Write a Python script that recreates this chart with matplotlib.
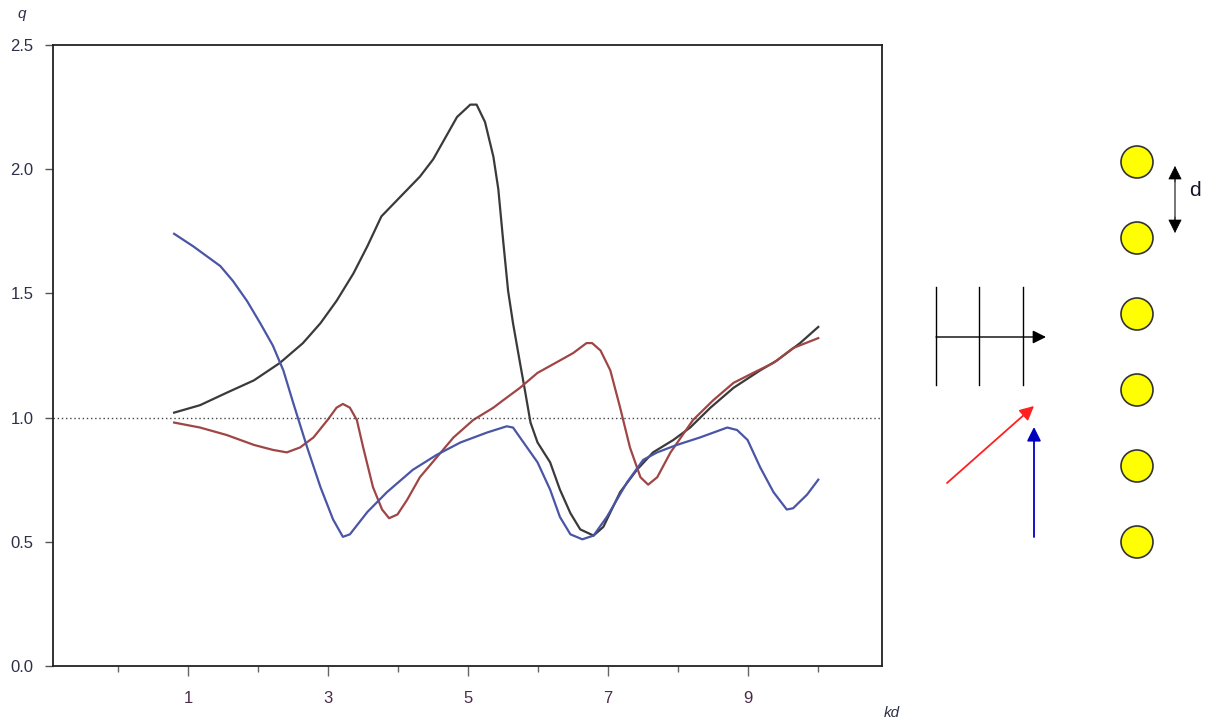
import numpy as np
import matplotlib.pyplot as plt
import matplotlib.ticker as mticks
from matplotlib.patches import Circle

plt.switch_backend('agg')
plt.rcParams['font.family'] = ['Liberation Sans', 'DejaVu Sans']

# --- data ---
black_x = [0.8, 1.17, 1.55, 1.94, 2.31, 2.64, 2.89, 3.12, 3.36, 3.56, 3.76, 4.0, 4.31,
           4.5, 4.64, 4.84, 5.03, 5.12, 5.24, 5.36, 5.43, 5.5, 5.57, 5.64, 5.74, 5.81,
           5.89, 5.99, 6.17, 6.31, 6.46, 6.6, 6.79, 6.93, 7.17, 7.41, 7.64, 7.93, 8.17,
           8.46, 8.79, 9.17, 9.41, 9.74, 10.0]
black_y = [1.02, 1.05, 1.10, 1.15, 1.22, 1.30, 1.38, 1.47, 1.58, 1.69, 1.81, 1.88, 1.97,
           2.04, 2.11, 2.21, 2.26, 2.26, 2.19, 2.05, 1.92, 1.71, 1.51, 1.38, 1.22, 1.11,
           0.98, 0.90, 0.82, 0.71, 0.615, 0.55, 0.525, 0.56, 0.70, 0.79, 0.86, 0.91, 0.96,
           1.04, 1.12, 1.19, 1.23, 1.30, 1.365]

red_x = [0.8, 1.17, 1.55, 1.94, 2.21, 2.41, 2.6, 2.79, 2.99, 3.12, 3.21, 3.31, 3.41, 3.5,
         3.64, 3.77, 3.87, 3.99, 4.13, 4.31, 4.55, 4.79, 5.07, 5.36, 5.5, 5.74, 5.99, 6.31,
         6.5, 6.69, 6.77, 6.89, 7.03, 7.17, 7.31, 7.46, 7.57, 7.7, 7.89, 8.21, 8.5, 8.79,
         9.07, 9.36, 9.64, 10.0]
red_y = [0.98, 0.96, 0.93, 0.89, 0.87, 0.86, 0.88, 0.92, 0.99, 1.04, 1.055, 1.04, 0.99, 0.88,
         0.72, 0.63, 0.595, 0.61, 0.67, 0.76, 0.84, 0.92, 0.99, 1.04, 1.07, 1.12, 1.18, 1.23,
         1.26, 1.30, 1.30, 1.27, 1.19, 1.04, 0.88, 0.76, 0.73, 0.76, 0.86, 0.99, 1.07, 1.14,
         1.18, 1.22, 1.28, 1.32]

blue_x = [0.8, 1.07, 1.46, 1.64, 1.84, 2.03, 2.21, 2.36, 2.5, 2.7, 2.89, 3.07, 3.21, 3.31,
          3.56, 3.84, 4.21, 4.55, 4.89, 5.27, 5.55, 5.64, 5.74, 5.99, 6.17, 6.31, 6.46, 6.63,
          6.79, 6.98, 7.27, 7.5, 7.7, 7.98, 8.31, 8.7, 8.84, 8.99, 9.17, 9.36, 9.55, 9.64,
          9.84, 10.0]
blue_y = [1.74, 1.69, 1.61, 1.55, 1.47, 1.38, 1.29, 1.19, 1.06, 0.88, 0.72, 0.59, 0.52, 0.53,
          0.62, 0.70, 0.79, 0.85, 0.90, 0.94, 0.965, 0.96, 0.92, 0.82, 0.71, 0.60, 0.53, 0.51,
          0.525, 0.60, 0.74, 0.83, 0.86, 0.89, 0.92, 0.96, 0.95, 0.91, 0.80, 0.70, 0.63, 0.635,
          0.69, 0.75]

x_major = [1, 3, 5, 7, 9]
x_minor = [0, 2, 4, 6, 8, 10]
y_ticks = [0.0, 0.5, 1.0, 1.5, 2.0, 2.5]
ref_level = 1.0

W, H = 1214, 720
fig = plt.figure(figsize=(W / 100, H / 100), dpi=100)
ax = fig.add_axes([53 / W, 1 - 666 / H, (882 - 53) / W, (666 - 45) / H])

ax.plot(black_x, black_y, color='#3a3a3a', lw=1.6, solid_joinstyle='round')
ax.plot(red_x, red_y, color='#a04545', lw=1.6, solid_joinstyle='round')
ax.plot(blue_x, blue_y, color='#4a55a5', lw=1.6, solid_joinstyle='round')
ax.axhline(ref_level, color='#444444', lw=1.0, ls=(0, (1, 2)))

ax.set_xlim(-0.93, 10.91)
ax.set_ylim(0, 2.5)
ax.xaxis.set_major_locator(mticks.FixedLocator(x_major))
ax.xaxis.set_minor_locator(mticks.FixedLocator(x_minor))
ax.set_yticks(y_ticks)
ax.set_yticklabels([f'{v:.1f}' for v in y_ticks])
ax.tick_params(axis='x', which='major', length=7, width=1, color='#666666',
               labelsize=12, labelcolor='#4a2c4a', pad=11)
ax.tick_params(axis='x', which='minor', length=4.5, width=1, color='#666666')
ax.tick_params(axis='y', length=6, width=1, color='#555555',
               labelsize=12, labelcolor='#2c3048', pad=8)
for s in ax.spines.values():
    s.set_linewidth(1.3)
    s.set_color('#222222')

fig.text(22 / W, 1 - 14 / H, 'q', fontsize=11, style='italic', color='#2c3048',
         ha='center', va='center')
fig.text(892 / W, 1 - 713 / H, 'kd', fontsize=11, style='italic', color='#2c3048',
         ha='center', va='center')

# --- sketch on the right: wavefronts, incidence arrows, row of cylinders ---
ov = fig.add_axes([0, 0, 1, 1])
ov.set_xlim(0, W)
ov.set_ylim(H, 0)
ov.axis('off')

for cy in [162, 238, 314, 390, 466, 542]:
    ov.add_patch(Circle((1137, cy), 16, facecolor='#ffff00', edgecolor='#333333', lw=1.2))

ov.plot([1175, 1175], [178, 222], color='#777777', lw=1.4)
ov.annotate('', xy=(1175, 166), xytext=(1175, 182),
            arrowprops=dict(arrowstyle='-|>', color='black', lw=0.5, mutation_scale=22,
                            shrinkA=0, shrinkB=0))
ov.annotate('', xy=(1175, 233), xytext=(1175, 217),
            arrowprops=dict(arrowstyle='-|>', color='black', lw=0.5, mutation_scale=22,
                            shrinkA=0, shrinkB=0))
ov.text(1195, 190, 'd', fontsize=15, ha='center', va='center', color='#14142e')

for wx in [936, 979, 1023]:
    ov.plot([wx, wx], [287, 385], color='black', lw=1.0)
ov.annotate('', xy=(1046, 337), xytext=(936, 337),
            arrowprops=dict(arrowstyle='-|>', color='black', lw=1.0, mutation_scale=20,
                            shrinkA=0, shrinkB=0))
ov.annotate('', xy=(1034, 406), xytext=(947, 483),
            arrowprops=dict(arrowstyle='-|>', color='#ff2020', lw=1.3, mutation_scale=21,
                            shrinkA=0, shrinkB=0))
ov.annotate('', xy=(1034, 427), xytext=(1034, 537),
            arrowprops=dict(arrowstyle='-|>', color='#0000c0', lw=1.3, mutation_scale=21,
                            shrinkA=0, shrinkB=0))

fig.savefig('out.png', dpi=100)
plt.close(fig)
